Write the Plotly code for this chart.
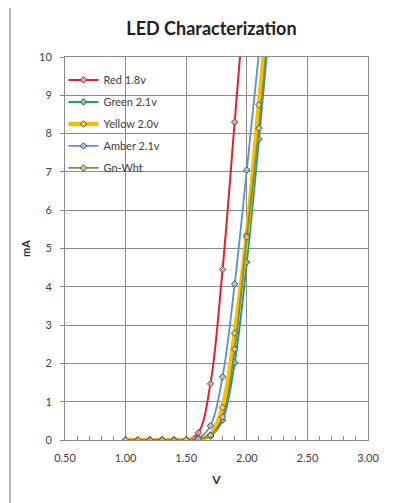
import plotly.graph_objects as go

volts = [1.0, 1.1, 1.2, 1.3, 1.4, 1.5, 1.6, 1.7, 1.8, 1.9, 2.0, 2.1, 2.2]

red_ma    = [0, 0, 0, 0, 0, 0, 0.19, 1.47, 4.45, 8.3, 12.2]
green_ma  = [0, 0, 0, 0, 0, 0, 0.02, 0.10, 0.52, 2.02, 4.64, 7.85, 11.3]
yellow_ma = [0, 0, 0, 0, 0, 0, 0.04, 0.13, 0.85, 2.79, 5.35, 8.75, 12.0]
amber_ma  = [0, 0, 0, 0, 0, 0, 0.05, 0.37, 1.65, 4.07, 7.05, 10.1]
gnwht_ma  = [0, 0, 0, 0, 0, 0, 0.03, 0.12, 0.60, 2.37, 5.30, 8.14, 11.6]

series = [
    ("Red 1.8v", red_ma, "#e02030", 2, "#e8a0a0"),
    ("Green 2.1v", green_ma, "#22a060", 2, "#80c8a0"),
    ("Yellow 2.0v", yellow_ma, "#f2c200", 4.5, "#f5d860"),
    ("Amber 2.1v", amber_ma, "#5a8fd0", 1.8, "#a8c4e8"),
    ("Gn-Wht", gnwht_ma, "#858555", 1.8, "#c8c8a0"),
]

fig = go.Figure()
for i, (name, ys, col, w, mfill) in enumerate(series):
    fig.add_trace(go.Scatter(
        x=volts[:len(ys)], y=ys, name=name, mode="lines+markers",
        line=dict(color=col, width=w, shape="spline", smoothing=1.0),
        marker=dict(symbol="diamond", size=5, color=mfill,
                    line=dict(color="#505040", width=1)),
        legendgroup="g%d" % i,
    ))

FONT = "Lato, 'Open Sans', sans-serif"

fig.update_layout(
    width=399, height=495,
    margin=dict(l=57, r=39, t=49, b=63),
    paper_bgcolor="white", plot_bgcolor="white",
    font=dict(family=FONT, size=11, color="#404040"),
    title=dict(text="<b>LED Characterization</b>", x=0.51, xanchor="center",
               y=0.958, yanchor="middle",
               font=dict(family=FONT, size=18, color="#202020")),
    showlegend=True,
    legend=dict(x=-0.005, y=0.978, xanchor="left", yanchor="top",
                bgcolor="rgba(0,0,0,0)", font=dict(size=11, color="#404040"),
                tracegroupgap=3, itemwidth=30, traceorder="grouped"),
    xaxis=dict(range=[0.5, 3.0], dtick=0.5, tick0=0.5, tickformat=".2f",
               showgrid=True, gridcolor="#8a8a8a", gridwidth=1,
               showline=True, linecolor="#8a8a8a", linewidth=1, mirror=True,
               ticks="", zeroline=False, ticklabelstandoff=8,
               minor=dict(dtick=0.1, ticks="inside", ticklen=4,
                          tickcolor="#8a8a8a", showgrid=False),
               title=dict(text="<b>V</b>", standoff=12,
                          font=dict(size=12, color="#303030"))),
    yaxis=dict(range=[0, 10], dtick=1,
               showgrid=True, gridcolor="#8a8a8a", gridwidth=1,
               showline=True, linecolor="#8a8a8a", linewidth=1, mirror=True,
               ticks="outside", ticklen=4, tickcolor="#8a8a8a",
               zeroline=False, ticklabelstandoff=6,
               title=dict(text="<b>mA</b>", standoff=6,
                          font=dict(size=11, color="#303030"))),
)

# outer chart frame (left and top edges visible, right/bottom clipped)
fig.add_shape(type="rect", xref="paper", yref="paper",
              x0=(2 - 57) / 303, x1=(420 - 57) / 303,
              y0=-(520 - 432) / 383, y1=1 + (49 - -1) / 383,
              line=dict(color="#a0a0a0", width=1.5), layer="below")

fig.write_html("out.html")
